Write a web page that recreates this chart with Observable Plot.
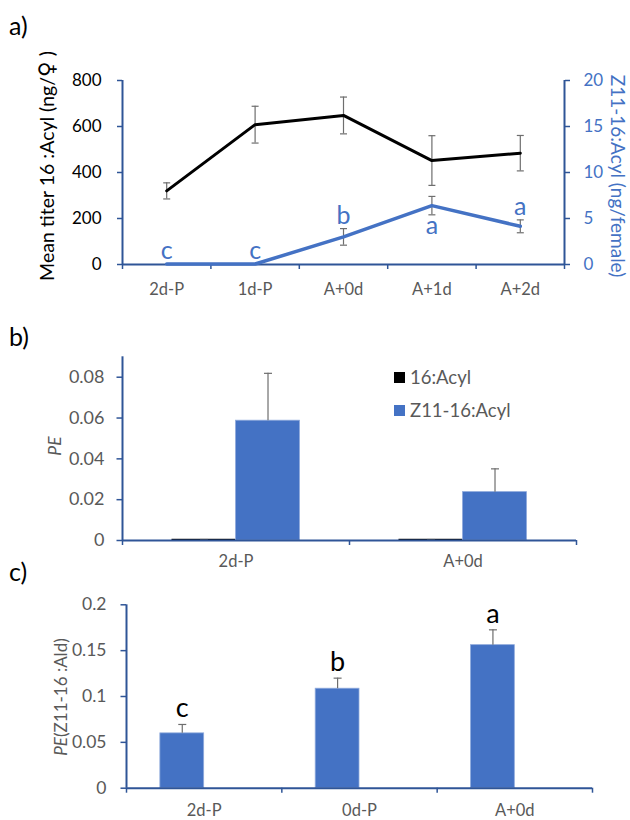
<!DOCTYPE html>
<html>
<head>
<meta charset="utf-8">
<script src="https://cdn.jsdelivr.net/npm/d3@7"></script>
<script src="https://cdn.jsdelivr.net/npm/@observablehq/plot@0.6"></script>
<style>
  html, body { margin: 0; padding: 0; background: #fff; }
  #root { position: relative; width: 630px; height: 820px; overflow: hidden; font-family: Lato, "Noto Sans", sans-serif; }
  .panel { position: absolute; left: 0; }
  .tag { position: absolute; font-size: 25px; color: #000; line-height: 1; }
  .ytitle { position: absolute; white-space: nowrap; line-height: 1; transform: translate(-50%, -50%) rotate(-90deg); }
  .ytitleR { position: absolute; white-space: nowrap; line-height: 1; transform: translate(-50%, -50%) rotate(90deg); }
  .legend { position: absolute; font-size: 18.5px; color: #595959; line-height: 1; }
  .legend .row { display: flex; align-items: center; height: 20px; margin-bottom: 13px; }
  .legend .sw { width: 11px; height: 11px; margin-right: 5px; }
  .venus { font-family: "DejaVu Sans", sans-serif; font-size: 1.1em; }
</style>
</head>
<body>
<div id="root"></div>
<script>
// ---------- data ----------
// panel a
const catsA = ["2d-P", "1d-P", "A+0d", "A+1d", "A+2d"];
const acyl16 = [320, 608, 648, 452, 484];
const acyl16Err = [35, 80, 80, 108, 77];
const z11Acyl = [0.05, 0.05, 3.0, 6.4, 4.15];
const z11AcylErr = [0, 0, 0.9, 1.0, 0.7];
const z11Letters = ["c", "c", "b", "a", "a"];
const z11LetterBelow = [false, false, false, true, false];
const leftTicksA = [0, 200, 400, 600, 800];
const rightTicksA = [0, 5, 10, 15, 20];

// panel b
const catsB = ["2d-P", "A+0d"];
const pe16Acyl = [0.0006, 0.0006];
const pe16AcylErr = [0.0003, 0.0003];
const peZ11Acyl = [0.0587, 0.0237];
const peZ11AcylErr = [0.0232, 0.0114];
const ticksB = [0, 0.02, 0.04, 0.06, 0.08];
const seriesB = ["16:Acyl", "Z11-16:Acyl"];

// panel c
const catsC = ["2d-P", "0d-P", "A+0d"];
const peZ11Ald = [0.0598, 0.1085, 0.156];
const peZ11AldErr = [0.0097, 0.0115, 0.0167];
const aldLetters = ["c", "b", "a"];
const ticksC = [0, 0.05, 0.1, 0.15, 0.2];

// ---------- style ----------
const FONT = "Lato, 'Noto Sans', sans-serif";
const axisColor = "#2F5597";
const blue = "#4472C4";
const gray = "#595959";
const errColor = "#6E6E6E";
const barFrac = 0.282; // bar width as a fraction of a category band

const capSymbol = {
  draw(ctx, size) {
    const r = Math.sqrt(size / Math.PI);
    ctx.moveTo(-r, 0);
    ctx.lineTo(r, 0);
  }
};

const root = document.getElementById("root");
function place(el, top) {
  el.classList.add("panel");
  el.style.top = top + "px";
  root.appendChild(el);
}
function addDiv(cls, html, css) {
  const d = document.createElement("div");
  d.className = cls;
  d.innerHTML = html;
  Object.assign(d.style, css);
  root.appendChild(d);
  return d;
}

// ---------- panel a ----------
const k = leftTicksA[leftTicksA.length - 1] / rightTicksA[rightTicksA.length - 1];
const dataA = catsA.map((c, i) => ({
  cat: c, pos: i + 0.5,
  acyl: acyl16[i], acylErr: acyl16Err[i],
  z11: z11Acyl[i] * k, z11Err: z11AcylErr[i] * k,
  letter: z11Letters[i], below: z11LetterBelow[i]
}));

const plotA = Plot.plot({
  width: 630, height: 300,
  marginTop: 80, marginBottom: 36, marginLeft: 122, marginRight: 66,
  x: { domain: [0, catsA.length], axis: null },
  y: { domain: [0, 800], axis: null },
  style: { fontFamily: FONT, overflow: "visible", background: "transparent" },
  marks: [
    Plot.axisY({ ticks: leftTicksA, tickSize: 5, tickFormat: () => "", color: axisColor, strokeWidth: 1.5, label: null }),
    Plot.axisY({ ticks: leftTicksA, tickSize: 0, tickPadding: 21, color: "#000", fontSize: 17, label: null }),
    Plot.axisY({ anchor: "right", ticks: leftTicksA, tickSize: 5, tickFormat: () => "", color: axisColor, strokeWidth: 1.5, label: null }),
    Plot.axisY({ anchor: "right", ticks: leftTicksA, tickSize: 0, tickPadding: 19, tickFormat: d => d / k, color: blue, fontSize: 17, label: null }),
    Plot.axisX({ ticks: d3.range(0, catsA.length + 1), tickSize: 5, tickFormat: () => "", color: axisColor, strokeWidth: 1.5, label: null }),
    Plot.axisX({ ticks: dataA.map(d => d.pos), tickSize: 0, tickPadding: 19, tickFormat: d => catsA[Math.floor(d)], color: gray, fontSize: 16.5, label: null }),
    Plot.ruleX([0, catsA.length], { stroke: axisColor, strokeWidth: 2 }),
    Plot.ruleY([0], { stroke: axisColor, strokeWidth: 2 }),
    // error bars
    Plot.ruleX(dataA, { x: "pos", y1: d => d.acyl - d.acylErr, y2: d => d.acyl + d.acylErr, stroke: errColor, strokeWidth: 1.2 }),
    Plot.dot(dataA, { x: "pos", y: d => d.acyl - d.acylErr, symbol: capSymbol, r: 3.5, stroke: errColor, strokeWidth: 1.2, fill: "none" }),
    Plot.dot(dataA, { x: "pos", y: d => d.acyl + d.acylErr, symbol: capSymbol, r: 3.5, stroke: errColor, strokeWidth: 1.2, fill: "none" }),
    Plot.ruleX(dataA.filter(d => d.z11Err > 0), { x: "pos", y1: d => d.z11 - d.z11Err, y2: d => d.z11 + d.z11Err, stroke: errColor, strokeWidth: 1.2 }),
    Plot.dot(dataA.filter(d => d.z11Err > 0), { x: "pos", y: d => d.z11 - d.z11Err, symbol: capSymbol, r: 3.5, stroke: errColor, strokeWidth: 1.2, fill: "none" }),
    Plot.dot(dataA.filter(d => d.z11Err > 0), { x: "pos", y: d => d.z11 + d.z11Err, symbol: capSymbol, r: 3.5, stroke: errColor, strokeWidth: 1.2, fill: "none" }),
    // lines
    Plot.line(dataA, { x: "pos", y: "acyl", stroke: "#000", strokeWidth: 3 }),
    Plot.line(dataA, { x: "pos", y: "z11", stroke: blue, strokeWidth: 3.5 }),
    // letters
    Plot.text(dataA.filter(d => !d.below), { x: "pos", y: d => d.z11 + d.z11Err, text: "letter", lineAnchor: "bottom", dy: -5, fill: blue, fontSize: 25 }),
    Plot.text(dataA.filter(d => d.below), { x: "pos", y: d => d.z11 - d.z11Err, text: "letter", lineAnchor: "top", dy: 1, fill: blue, fontSize: 25 })
  ]
});
place(plotA, 0);

// ---------- panel b ----------
const dataB = catsB.map((c, i) => ({
  cat: c, pos: i + 0.5,
  v16: pe16Acyl[i], e16: pe16AcylErr[i],
  vZ: peZ11Acyl[i], eZ: peZ11AcylErr[i]
}));

const plotB = Plot.plot({
  width: 630, height: 270,
  marginTop: 56.3, marginBottom: 30, marginLeft: 122, marginRight: 54,
  x: { domain: [0, catsB.length], axis: null },
  y: { domain: [0, 0.09], axis: null },
  style: { fontFamily: FONT, overflow: "visible", background: "transparent" },
  marks: [
    Plot.rectY(dataB, { x1: d => d.pos - barFrac, x2: "pos", y1: 0, y2: "v16", fill: "#000" }),
    Plot.rectY(dataB, { x1: "pos", x2: d => d.pos + barFrac, y1: 0, y2: "vZ", fill: blue, stroke: "#8FAADC", strokeWidth: 0.8 }),
    Plot.ruleX(dataB, { x: d => d.pos - barFrac / 2, y1: "v16", y2: d => d.v16 + d.e16, stroke: "#BFBFBF", strokeWidth: 1.2 }),
    Plot.dot(dataB, { x: d => d.pos - barFrac / 2, y: d => d.v16 + d.e16, symbol: capSymbol, r: 4, stroke: "#BFBFBF", strokeWidth: 1.2, fill: "none" }),
    Plot.ruleX(dataB, { x: d => d.pos + barFrac / 2, y1: "vZ", y2: d => d.vZ + d.eZ, stroke: errColor, strokeWidth: 1.2 }),
    Plot.dot(dataB, { x: d => d.pos + barFrac / 2, y: d => d.vZ + d.eZ, symbol: capSymbol, r: 4, stroke: errColor, strokeWidth: 1.2, fill: "none" }),
    Plot.axisY({ ticks: ticksB, tickSize: 5.5, tickFormat: () => "", color: axisColor, strokeWidth: 1.5, label: null }),
    Plot.axisY({ ticks: ticksB, tickSize: 0, tickPadding: 18, tickFormat: d => d3.format("")(+d.toFixed(2)), color: gray, fontSize: 18, label: null }),
    Plot.axisX({ ticks: d3.range(0, catsB.length + 1), tickSize: 5, tickFormat: () => "", color: axisColor, strokeWidth: 1.5, label: null }),
    Plot.axisX({ ticks: dataB.map(d => d.pos), tickSize: 0, tickPadding: 15, tickFormat: d => catsB[Math.floor(d)], color: gray, fontSize: 16.5, label: null }),
    Plot.ruleX([0], { stroke: axisColor, strokeWidth: 2 }),
    Plot.ruleY([0], { stroke: axisColor, strokeWidth: 2 })
  ]
});
place(plotB, 300);

// ---------- panel c ----------
const dataC = catsC.map((c, i) => ({
  cat: c, pos: i + 0.5, v: peZ11Ald[i], e: peZ11AldErr[i], letter: aldLetters[i]
}));

const plotC = Plot.plot({
  width: 630, height: 250,
  marginTop: 34.3, marginBottom: 32.3, marginLeft: 126, marginRight: 38,
  x: { domain: [0, catsC.length], axis: null },
  y: { domain: [0, 0.2], axis: null },
  style: { fontFamily: FONT, overflow: "visible", background: "transparent" },
  marks: [
    Plot.rectY(dataC, { x1: d => d.pos - barFrac, x2: "pos", y1: 0, y2: "v", fill: blue, stroke: "#8FAADC", strokeWidth: 0.8 }),
    Plot.ruleX(dataC, { x: d => d.pos - barFrac / 2, y1: "v", y2: d => d.v + d.e, stroke: errColor, strokeWidth: 1.2 }),
    Plot.dot(dataC, { x: d => d.pos - barFrac / 2, y: d => d.v + d.e, symbol: capSymbol, r: 4, stroke: errColor, strokeWidth: 1.2, fill: "none" }),
    Plot.text(dataC, { x: d => d.pos - barFrac / 2, y: d => d.v + d.e, text: "letter", lineAnchor: "bottom", dy: -7, fill: "#000", fontSize: 27 }),
    Plot.axisY({ ticks: ticksC, tickSize: 5.5, tickFormat: () => "", color: axisColor, strokeWidth: 1.5, label: null }),
    Plot.axisY({ ticks: ticksC, tickSize: 0, tickPadding: 20, tickFormat: d => d3.format("")(+d.toFixed(2)), color: gray, fontSize: 17.5, label: null }),
    Plot.axisX({ ticks: d3.range(0, catsC.length + 1), tickSize: 5, tickFormat: () => "", color: axisColor, strokeWidth: 1.5, label: null }),
    Plot.axisX({ ticks: dataC.map(d => d.pos), tickSize: 0, tickPadding: 16, tickFormat: d => catsC[Math.floor(d)], color: gray, fontSize: 16.5, label: null }),
    Plot.ruleX([0], { stroke: axisColor, strokeWidth: 2 }),
    Plot.ruleY([0], { stroke: axisColor, strokeWidth: 2 })
  ]
});
place(plotC, 570);

// ---------- html texts ----------
addDiv("tag", "a)", { left: "9px", top: "13px" });
addDiv("tag", "b)", { left: "9px", top: "324px" });
addDiv("tag", "c)", { left: "9px", top: "559px" });

addDiv("ytitle", "Mean titer 16 :Acyl (ng/<span class=\"venus\">♀</span> )", { left: "47px", top: "166px", fontSize: "19.5px", color: "#000" });
addDiv("ytitleR", "Z11-16:Acyl (ng/female)", { left: "618px", top: "176px", fontSize: "19px", color: blue });
addDiv("ytitle", "<i>PE</i>", { left: "55px", top: "446px", fontSize: "17.5px", color: gray });
addDiv("ytitle", "<i>PE</i>(Z11-16 :Ald)", { left: "60px", top: "697px", fontSize: "17px", color: gray });

const legendColors = ["#000", blue];
addDiv("legend",
  seriesB.map((s, i) => `<div class="row"><span class="sw" style="background:${legendColors[i]}"></span>${s}</div>`).join(""),
  { left: "394px", top: "367px" });
</script>
</body>
</html>
